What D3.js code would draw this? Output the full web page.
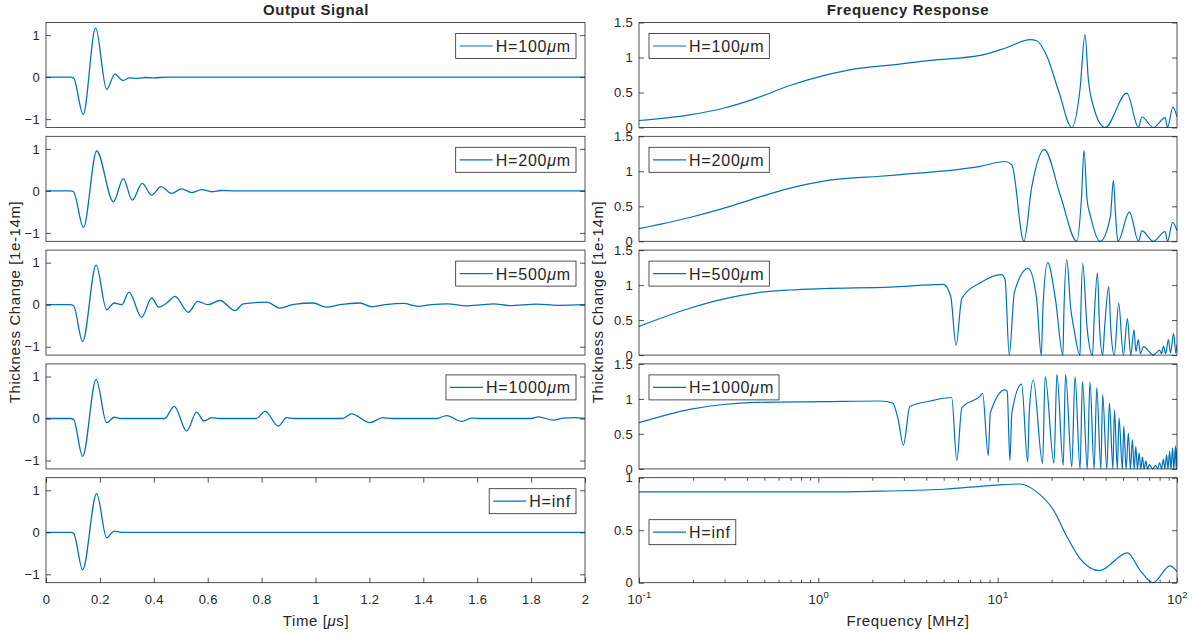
<!DOCTYPE html>
<html>
<head>
<meta charset="utf-8">
<script src="https://cdn.jsdelivr.net/npm/d3@7"></script>
<style>
  body { margin: 0; background: #fff; }
  text { font-family: "Liberation Sans", Arial, sans-serif; fill: #262626; }
</style>
</head>
<body>
<svg id="chart" width="1194" height="638"></svg>
<script>
// legend names, one per row
const legendNames = ["H=100", "H=200", "H=500", "H=1000", "H=inf"];

// time signals (us, 1e-14 m)
const timeH100 = [0, 0.09, 0.102, 0.138, 0.184, 0.225, 0.256, 0.285, 0.31, 0.34, 0.37, 0.4, 0.45, 2];
const sigH100 = [0, 0, -0.02, -0.89, 1.17, -0.29, 0.07, -0.08, -0.02, -0.03, -0.01, -0.02, 0, 0];

const timeH200 = [0, 0.09, 0.102, 0.139, 0.188, 0.25, 0.287, 0.32, 0.357, 0.392, 0.427, 0.466, 0.503, 0.54, 0.578, 0.615, 0.65, 0.7, 2];
const sigH200 = [0, 0, -0.02, -0.87, 0.95, -0.26, 0.29, -0.22, 0.18, -0.1, 0.1, -0.06, 0.05, -0.04, 0.03, -0.02, 0.01, 0, 0];

const timeH500 = [0, 0.09, 0.102, 0.136, 0.186, 0.225, 0.253, 0.281, 0.308, 0.355, 0.392, 0.419, 0.448, 0.479, 0.528, 0.563, 0.6, 0.646, 0.701, 0.732, 0.819, 0.868, 0.92, 0.992, 1.04, 1.09, 1.165, 1.208, 1.26, 1.326, 1.38, 1.43, 1.49, 1.56, 1.62, 1.66, 1.72, 1.82, 1.9, 2];
const sigH500 = [0, 0, -0.02, -0.88, 0.94, -0.12, 0.04, 0, 0.3, -0.3, 0.16, -0.06, 0.04, 0.2, -0.18, 0.08, 0.0, 0.1, -0.14, 0.02, 0.06, -0.08, 0.01, 0.04, -0.06, 0.0, 0.04, -0.05, 0.0, 0.03, -0.04, 0, 0.02, -0.03, 0, 0.02, -0.02, 0.015, -0.015, 0];

const timeH1000 = [0, 0.09, 0.102, 0.136, 0.186, 0.225, 0.253, 0.28, 0.44, 0.476, 0.522, 0.559, 0.586, 0.615, 0.64, 0.78, 0.813, 0.862, 0.893, 0.92, 1.1, 1.134, 1.202, 1.25, 1.28, 1.45, 1.487, 1.542, 1.58, 1.62, 1.8, 1.827, 1.882, 1.92, 1.96, 2];
const sigH1000 = [0, 0, -0.02, -0.9, 0.93, -0.1, 0.03, 0, 0, 0.29, -0.3, 0.15, -0.06, 0.02, 0, 0, 0.17, -0.18, 0.02, 0, 0, 0.11, -0.1, 0.02, 0, 0, 0.07, -0.07, 0.01, 0, 0, 0.04, -0.04, 0.01, 0.02, 0];

const timeHinf = [0, 0.09, 0.102, 0.136, 0.188, 0.225, 0.253, 0.28, 2];
const sigHinf = [0, 0, -0.02, -0.89, 0.92, -0.13, 0.03, 0, 0];

// frequency responses (MHz, 1e-14 m)
const freqH100 = [0.1, 0.192, 0.295, 0.453, 0.695, 1.07, 1.64, 2.5, 4.2, 7.98, 11.2, 15.2, 16.5, 18.8, 22, 25.9, 28.8, 30.7, 32, 34.2, 39.7, 52.5, 61, 63.7, 73.8, 85.9, 88.5, 94.9, 100];
const respH100 = [0.1, 0.18, 0.275, 0.42, 0.6, 0.74, 0.84, 0.89, 0.96, 1.03, 1.14, 1.255, 1.24, 1.02, 0.5, 0, 0.55, 1.33, 0.7, 0.3, 0, 0.49, 0, 0.15, 0, 0.14, 0, 0.29, 0.15];

const freqH200 = [0.1, 0.192, 0.295, 0.453, 0.695, 1.07, 2.51, 7.98, 11.0, 12.0, 14.0, 15.5, 18.2, 22.4, 27.6, 29.3, 30.3, 31.5, 33, 37.2, 42.5, 44.2, 45.5, 46.8, 54.3, 61, 63.7, 73.8, 85.9, 88.5, 94.5, 100];
const respH200 = [0.18, 0.34, 0.47, 0.62, 0.76, 0.86, 0.94, 1.07, 1.14, 1.09, 0, 0.78, 1.31, 0.65, 0, 0.6, 1.3, 0.6, 0.35, 0, 0.35, 0.87, 0.35, 0, 0.42, 0, 0.15, 0, 0.14, 0, 0.27, 0.15];

const freqH500 = [0.1, 0.192, 0.295, 0.453, 0.695, 1.07, 2.51, 4.98, 5.47, 5.86, 6.31, 7.98, 10.5, 11.0, 11.6, 12.4, 14.8, 16.5, 17.5, 17.9, 19.0, 21, 23.1, 23.4, 24.3, 25.5, 26.7, 28.8, 29.1, 29.8, 31.5, 33.8, 34.5, 36.0, 37.0, 38.5, 39.5, 41.6, 42.8, 44.7, 47.3, 50.2, 52.9, 55.2, 57.6, 59, 60.9, 62.5, 65.0, 73.8, 80, 82, 84, 86.5, 89.5, 92, 95.7, 98.5, 100];
const respH500 = [0.41, 0.67, 0.8, 0.89, 0.93, 0.95, 0.97, 1.01, 0.84, 0.14, 0.81, 1.03, 1.15, 1.08, 0, 0.9, 1.24, 0.8, 0, 0.7, 1.32, 0.8, 0, 0.6, 1.36, 0.69, 0.36, 0, 0.6, 1.31, 0.4, 0, 0.5, 1.17, 0.4, 0, 0.4, 0.98, 0.35, 0, 0.74, 0, 0.52, 0, 0.36, 0.05, 0.22, 0.02, 0.12, 0, 0.07, 0.02, 0.13, 0.02, 0.22, 0.03, 0.31, 0.03, 0.15];

const freqH1000 = [0.1, 0.192, 0.295, 0.453, 1.07, 2.21, 2.6, 2.79, 2.98, 3.24, 4.2, 5.54, 5.92, 6.31, 7.98, 8.24, 8.86, 9.1, 11.0, 11.3, 11.7, 12.0, 13.6, 14.7, 15.0, 15.8, 17.8, 18.4, 20.6, 21.4, 23.2, 23.9, 25.9, 27.0, 28.8, 29.7, 31.6, 32.7, 34.5, 35.7, 37.6, 38.5, 40.6, 42.0, 43.9, 44.8, 46.5, 47.5, 49.6, 50.5, 52, 53.6, 55, 56.4, 57.7, 58.9, 60.2, 61.5, 62.8, 64.2, 65.5, 67, 68.5, 70, 73.3, 76, 78, 80, 82, 84, 85.5, 87.5, 89, 91, 92.5, 94.5, 96, 98, 99, 100];
const respH1000 = [0.66, 0.85, 0.92, 0.95, 0.96, 0.97, 0.94, 0.7, 0.34, 0.89, 0.97, 1.02, 0.12, 0.87, 1.04, 1.08, 0.19, 0.8, 1.13, 1.11, 0.12, 0.8, 1.21, 0.1, 0.8, 1.27, 0.08, 1.32, 0.08, 1.35, 0.05, 1.35, 0.03, 1.32, 0, 1.25, 0, 1.24, 0, 1.16, 0, 1.06, 0, 0.94, 0, 0.84, 0, 0.73, 0, 0.61, 0, 0.51, 0, 0.42, 0, 0.32, 0, 0.23, 0, 0.17, 0, 0.11, 0, 0.06, 0, 0.05, 0, 0.09, 0, 0.14, 0, 0.2, 0, 0.25, 0, 0.3, 0, 0.33, 0, 0.3];

const freqHinf = [0.1, 1, 2, 5, 9.9, 13.3, 16.5, 20.5, 24.3, 28.8, 36.9, 52.9, 62.2, 73.3, 91.4, 100];
const respHinf = [0.865, 0.865, 0.87, 0.89, 0.93, 0.94, 0.865, 0.69, 0.44, 0.23, 0.115, 0.285, 0.12, 0, 0.16, 0.105];

const timeTicks = [0, 0.2, 0.4, 0.6, 0.8, 1, 1.2, 1.4, 1.6, 1.8, 2];

const timeSeries = [[timeH100, sigH100], [timeH200, sigH200], [timeH500, sigH500], [timeH1000, sigH1000], [timeHinf, sigHinf]];
const freqSeries = [[freqH100, respH100], [freqH200, respH200], [freqH500, respH500], [freqH1000, respH1000], [freqHinf, respHinf]];

const lineColor = "#0072BD";
const boxColor = "#262626";
const panelTop = 22.5, panelStep = 113.8, panelH = 105;
const leftX0 = 46, leftX1 = 585, rightX0 = 639, rightX1 = 1177;

const svg = d3.select("#chart");
svg.append("rect").attr("width", 1194).attr("height", 638).attr("fill", "#fff");

const defs = svg.append("defs");

function styleAxis(g) {
  g.select(".domain").remove();
  g.selectAll(".tick line").attr("stroke", boxColor).attr("stroke-width", 0.8);
  g.selectAll(".tick text").attr("font-size", 13).attr("fill", boxColor)
    .style("font-family", "'Liberation Sans', Arial, sans-serif").style("letter-spacing", "0.3px");
}

function addLegend(g, name, side, boxTop) {
  const lg = g.append("g");
  const txt = lg.append("text").attr("font-size", 16).style("letter-spacing", "0.8px");
  txt.append("tspan").text(name);
  if (name !== "H=inf") {
    txt.append("tspan").attr("font-style", "italic").text("\u03bc");
    txt.append("tspan").text("m");
  }
  const tw = txt.node().getComputedTextLength();
  const bw = tw + 45;
  const bx = side === "right" ? leftX1 - 9 - bw : rightX0 + 10;
  lg.insert("rect", "text").attr("x", bx).attr("y", boxTop).attr("width", bw).attr("height", 25)
    .attr("fill", "#fff").attr("stroke", boxColor).attr("stroke-width", 0.8);
  lg.append("line").attr("x1", bx + 4).attr("x2", bx + 37)
    .attr("y1", boxTop + 12.5).attr("y2", boxTop + 12.5)
    .attr("stroke", lineColor).attr("stroke-width", 1.2);
  txt.attr("x", bx + 40).attr("y", boxTop + 18.5);
}

timeSeries.forEach(function(s, i) {
  const top = panelTop + i * panelStep;
  const bottom = top + panelH;
  const x = d3.scaleLinear().domain([0, 2]).range([leftX0, leftX1]);
  const y = d3.scaleLinear().domain([-1.2, 1.3]).range([bottom, top]);
  const g = svg.append("g");

  defs.append("clipPath").attr("id", "clipL" + i).append("rect")
    .attr("x", leftX0).attr("y", top).attr("width", leftX1 - leftX0).attr("height", panelH);

  const pts = s[0].map((t, k) => [t, s[1][k]]);
  g.append("path").datum(pts)
    .attr("clip-path", "url(#clipL" + i + ")")
    .attr("fill", "none").attr("stroke", lineColor).attr("stroke-width", 1.3)
    .attr("d", d3.line().x(d => x(d[0])).y(d => y(d[1])).curve(d3.curveMonotoneX));

  g.append("g").attr("transform", "translate(" + leftX0 + ",0)")
    .call(d3.axisLeft(y).tickValues([-1, 0, 1]).tickSize(-5).tickPadding(6).tickFormat(d3.format("d")))
    .call(styleAxis);
  g.append("g").attr("transform", "translate(" + leftX1 + ",0)")
    .call(d3.axisRight(y).tickValues([-1, 0, 1]).tickSize(-5).tickFormat(""))
    .call(styleAxis);

  if (i === 4) {
    g.append("g").attr("transform", "translate(0," + bottom + ")")
      .call(d3.axisBottom(x).tickValues(timeTicks).tickSize(-5).tickPadding(12).tickFormat(d3.format("")))
      .call(styleAxis);
    g.append("g").attr("transform", "translate(0," + top + ")")
      .call(d3.axisTop(x).tickValues(timeTicks).tickSize(-5).tickFormat(""))
      .call(styleAxis);
  }

  g.append("rect").attr("x", leftX0).attr("y", top).attr("width", leftX1 - leftX0).attr("height", panelH)
    .attr("fill", "none").attr("stroke", boxColor).attr("stroke-width", 0.8);

  addLegend(g, legendNames[i], "right", top + 11);
});

freqSeries.forEach(function(s, i) {
  const top = panelTop + i * panelStep;
  const bottom = top + panelH;
  const yMax = i === 4 ? 1 : 1.5;
  const x = d3.scaleLog().domain([0.1, 100]).range([rightX0, rightX1]);
  const y = d3.scaleLinear().domain([0, yMax]).range([bottom, top]);
  const g = svg.append("g");

  defs.append("clipPath").attr("id", "clipR" + i).append("rect")
    .attr("x", rightX0).attr("y", top - 1).attr("width", rightX1 - rightX0).attr("height", panelH + 2);

  const pts = s[0].map((f, k) => [f, s[1][k]]);
  g.append("path").datum(pts)
    .attr("clip-path", "url(#clipR" + i + ")")
    .attr("fill", "none").attr("stroke", lineColor).attr("stroke-width", 1.2)
    .attr("d", d3.line().x(d => x(d[0])).y(d => y(d[1])).curve(d3.curveMonotoneX));

  const yt = i === 4 ? [0, 0.5, 1] : [0, 0.5, 1, 1.5];
  g.append("g").attr("transform", "translate(" + rightX0 + ",0)")
    .call(d3.axisLeft(y).tickValues(yt).tickSize(-5).tickPadding(6).tickFormat(d => String(d)))
    .call(styleAxis);
  g.append("g").attr("transform", "translate(" + rightX1 + ",0)")
    .call(d3.axisRight(y).tickValues(yt).tickSize(-5).tickFormat(""))
    .call(styleAxis);

  if (i === 4) {
    const majors = [0.1, 1, 10, 100];
    const minors = x.ticks().filter(v => majors.indexOf(v) < 0);
    [["bottom", bottom], ["top", top]].forEach(function(pos) {
      const ax = pos[0] === "bottom" ? d3.axisBottom(x) : d3.axisTop(x);
      g.append("g").attr("transform", "translate(0," + pos[1] + ")")
        .call(ax.tickValues(minors).tickSize(-3).tickFormat(""))
        .call(styleAxis);
    });
    const bx = g.append("g").attr("transform", "translate(0," + bottom + ")")
      .call(d3.axisBottom(x).tickValues(majors).tickSize(-5).tickPadding(12).tickFormat(""))
      .call(styleAxis);
    bx.selectAll(".tick text").each(function(d) {
      const t = d3.select(this);
      t.append("tspan").text("10");
      t.append("tspan").attr("dy", -6).attr("font-size", 9.5).text(String(Math.round(Math.log10(d))));
    });
    g.append("g").attr("transform", "translate(0," + top + ")")
      .call(d3.axisTop(x).tickValues(majors).tickSize(-5).tickFormat(""))
      .call(styleAxis);
  }

  g.append("rect").attr("x", rightX0).attr("y", top).attr("width", rightX1 - rightX0).attr("height", panelH)
    .attr("fill", "none").attr("stroke", boxColor).attr("stroke-width", 0.8);

  addLegend(g, legendNames[i], "left", i === 4 ? top + 42 : top + 11);
});

// titles and axis labels
function label(x, y, opts) {
  const t = svg.append("text").attr("x", x).attr("y", y).attr("text-anchor", "middle")
    .attr("font-size", 15).style("letter-spacing", "0.6px");
  if (opts && opts.bold) t.attr("font-weight", "bold");
  if (opts && opts.rotate) t.attr("transform", "rotate(-90," + x + "," + y + ")");
  return t;
}
label(316, 15, { bold: true }).text("Output Signal");
label(908, 15, { bold: true }).text("Frequency Response");
const tl = label(316, 626);
tl.append("tspan").text("Time [");
tl.append("tspan").attr("font-style", "italic").text("\u03bc");
tl.append("tspan").text("s]");
label(908, 626).text("Frequency [MHz]");
label(20, 302, { rotate: true }).text("Thickness Change [1e-14m]");
label(603, 302, { rotate: true }).text("Thickness Change [1e-14m]");
</script>
</body>
</html>
